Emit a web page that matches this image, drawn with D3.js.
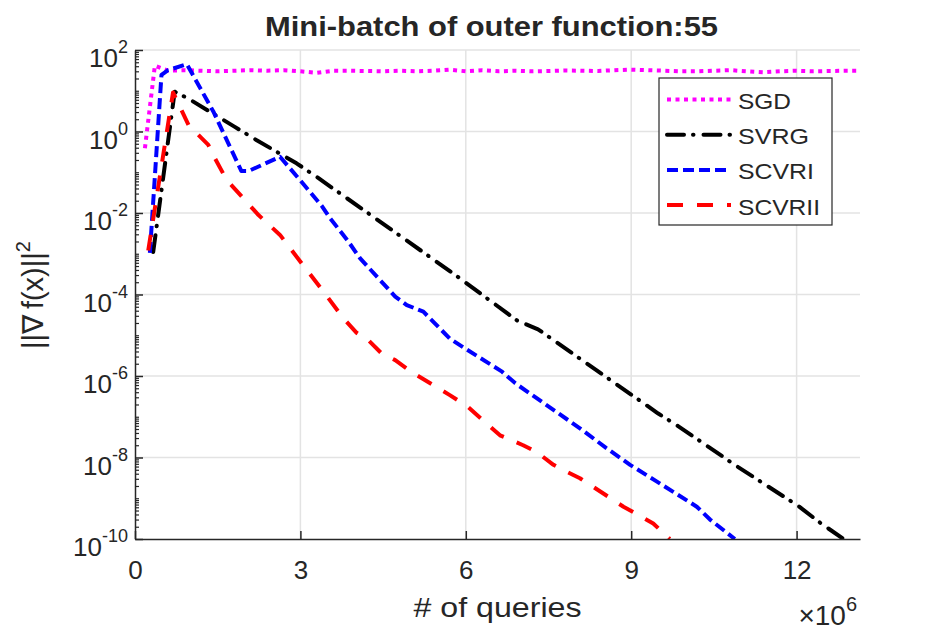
<!DOCTYPE html>
<html>
<head>
<meta charset="utf-8">
<script src="https://cdn.jsdelivr.net/npm/d3@7"></script>
<style>
  body { margin: 0; background: #fff; }
  text { font-family: "Liberation Sans", Arial, Helvetica, sans-serif; fill: #262626; }
</style>
</head>
<body>
<div id="vis-container"></div>
<script>
// data (x in units of 1e6 queries)
let sgdX = [0.18, 0.36, 0.6, 0.9, 1.2, 1.5, 1.8, 2.1, 2.4, 2.7, 3.0, 3.3, 3.6, 3.9, 4.2, 4.5, 4.8, 5.1, 5.4, 5.7, 6.0, 6.3, 6.6, 6.9, 7.2, 7.5, 7.8, 8.1, 8.4, 8.7, 9.0, 9.3, 9.6, 9.9, 10.2, 10.5, 10.8, 11.1, 11.4, 11.7, 12.0, 12.3, 12.6, 12.9, 13.15];
let sgdY = [0.39, 41, 31, 32, 31, 30, 31, 32, 31, 32, 30, 27.5, 31, 31, 30.5, 30, 31, 30, 31, 33, 30, 32, 30, 31, 30, 30.5, 31.5, 31, 30.5, 32, 33, 32, 31, 30, 30, 31, 32, 30, 28.5, 30, 31, 30, 30.5, 31, 31];

let svrgX = [0.33, 0.72, 0.96, 1.81, 2.2, 2.93, 3.3, 4.38, 5.85, 6.93, 7.31, 8.40, 9.49, 9.85, 10.94, 12.03, 12.41, 12.85];
let svrgY = [1.1e-3, 9.5, 6.5, 1.3, 0.62, 0.166, 0.076, 7.1e-3, 2.75e-4, 2.3e-5, 1.4e-5, 1.3e-6, 1.2e-7, 5.9e-8, 5.8e-9, 6.5e-10, 2.6e-10, 1.0e-10];

let scvr1X = [0.27, 0.48, 0.6, 0.9, 0.94, 1.42, 1.93, 2.06, 2.63, 2.99, 3.39, 3.54, 3.87, 4.08, 4.72, 4.93, 5.23, 5.71, 5.98, 6.65, 6.90, 8.07, 8.55, 8.98, 9.46, 10.19, 10.43, 10.88];
let scvr1Y = [1.05e-3, 24.5, 32, 43, 45, 3.1, 0.107, 0.107, 0.24, 0.065, 0.0148, 7.4e-3, 2.0e-3, 7.8e-4, 8.9e-5, 5.5e-5, 3.8e-5, 8.3e-6, 4.8e-6, 1.3e-6, 6.6e-7, 5.2e-8, 1.7e-8, 6.6e-9, 2.6e-9, 6.2e-10, 3.0e-10, 1.0e-10];

let scvr2X = [0.24, 0.69, 0.97, 1.33, 1.42, 1.63, 1.69, 2.24, 2.63, 3.05, 3.42, 3.78, 4.02, 4.23, 4.47, 4.72, 5.05, 5.71, 6.03, 6.62, 7.04, 7.28, 7.59, 7.77, 8.07, 8.86, 9.13, 9.40, 9.70];
let scvr2Y = [1.2e-3, 9.1, 1.45, 0.47, 0.26, 0.078, 0.059, 8.9e-3, 2.9e-3, 5.2e-4, 1.17e-4, 2.6e-5, 1.15e-5, 7.6e-6, 3.6e-6, 2.45e-6, 1.17e-6, 3.4e-7, 1.78e-7, 3.5e-8, 2.0e-8, 1.38e-8, 6.6e-9, 4.9e-9, 3.1e-9, 6.2e-10, 3.9e-10, 2.4e-10, 1.0e-10];

let names = ["SGD", "SVRG", "SCVRI", "SCVRII"];
let xTicks = [0, 3, 6, 9, 12];
let yExps = [2, 0, -2, -4, -6, -8, -10];

let w = 952;
let h = 634;
let mLeft = 135, mRight = 860, mTop = 50, mBottom = 539;

let svg = d3.select("#vis-container")
  .append("svg")
  .attr("width", w)
  .attr("height", h);

let x = d3.scaleLinear()
  .domain([0, 13.15])
  .range([mLeft, mRight]);

let y = d3.scaleLog()
  .domain([1e-10, 1e2])
  .range([mBottom, mTop]);

let axisCol = "#262626";

// grid
svg.append("g").selectAll("line")
  .data(xTicks.slice(1))
  .enter().append("line")
  .attr("x1", d => x(d)).attr("x2", d => x(d))
  .attr("y1", mTop).attr("y2", mBottom)
  .attr("stroke", "#e3e3e3").attr("stroke-width", 1.5);

svg.append("g").selectAll("line")
  .data(yExps.slice(0, -1))
  .enter().append("line")
  .attr("x1", mLeft).attr("x2", mRight)
  .attr("y1", d => y(Math.pow(10, d))).attr("y2", d => y(Math.pow(10, d)))
  .attr("stroke", "#e3e3e3").attr("stroke-width", 1.5);

// series
let series = [
  {xs: sgdX, ys: sgdY, color: "#ff00ff", dash: "4,4.5", cap: "butt", width: 4},
  {xs: svrgX, ys: svrgY, color: "#000000", dash: "17,9,0.5,10", cap: "round", width: 4},
  {xs: scvr1X, ys: scvr1Y, color: "#0000ff", dash: "11,5", cap: "butt", width: 4},
  {xs: scvr2X, ys: scvr2Y, color: "#ff0000", dash: "16,14", cap: "butt", width: 4}
];

svg.append("clipPath").attr("id", "clip")
  .append("rect")
  .attr("x", mLeft).attr("y", mTop - 4)
  .attr("width", mRight - mLeft).attr("height", mBottom - mTop + 4);

let line = d3.line()
  .x(d => x(d[0]))
  .y(d => y(d[1]));

svg.append("g").attr("clip-path", "url(#clip)")
  .selectAll("path")
  .data(series)
  .enter().append("path")
  .attr("d", s => line(s.xs.map((v, i) => [v, s.ys[i]])))
  .attr("fill", "none")
  .attr("stroke", s => s.color)
  .attr("stroke-width", s => s.width)
  .attr("stroke-dasharray", s => s.dash)
  .attr("stroke-linecap", s => s.cap)
  .attr("stroke-linejoin", "round");

// x axis
let xAxis = svg.append("g")
  .attr("transform", `translate(0,${mBottom})`)
  .call(d3.axisBottom(x).tickValues(xTicks).tickSize(-8).tickSizeOuter(0).tickPadding(22).tickFormat(d3.format("d")));
xAxis.select(".domain").attr("stroke", axisCol).attr("stroke-width", 1.5);
xAxis.selectAll(".tick line").attr("stroke", axisCol).attr("stroke-width", 1.5);
xAxis.selectAll(".tick text")
  .attr("font-size", 26)
  .attr("fill", axisCol);

// y axis minor ticks
let minor = [];
for (let e = -10; e < 2; e++) {
  for (let k = 2; k <= 9; k++) minor.push(k * Math.pow(10, e));
}
for (let e = -9; e < 2; e += 2) minor.push(Math.pow(10, e));

let yMinor = svg.append("g")
  .attr("transform", `translate(${mLeft},0)`)
  .call(d3.axisLeft(y).tickValues(minor).tickSize(-4).tickSizeOuter(0).tickFormat(""));
yMinor.select(".domain").remove();
yMinor.selectAll(".tick line").attr("stroke", axisCol).attr("stroke-width", 1.2);

let yAxis = svg.append("g")
  .attr("transform", `translate(${mLeft},0)`)
  .call(d3.axisLeft(y).tickValues(yExps.map(e => Math.pow(10, e))).tickSize(-8).tickSizeOuter(0).tickFormat(""));
yAxis.select(".domain").attr("stroke", axisCol).attr("stroke-width", 1.5);
yAxis.selectAll(".tick line").attr("stroke", axisCol).attr("stroke-width", 1.5);

// y tick labels as 10^n
let yLab = svg.append("g").selectAll("text")
  .data(yExps)
  .enter().append("text")
  .attr("x", mLeft - 7)
  .attr("y", d => y(Math.pow(10, d)) + 17)
  .attr("text-anchor", "end")
  .attr("font-size", 26);
yLab.append("tspan").text("10");
yLab.append("tspan").attr("dy", -14).attr("font-size", 18).text(d => d);

// x multiplier
let mult = svg.append("text")
  .attr("x", mRight - 3).attr("y", 625)
  .attr("text-anchor", "end")
  .attr("font-size", 28);
mult.append("tspan").text("\u00d710");
mult.append("tspan").attr("dy", -14).attr("font-size", 20).text("6");

// axis labels and title
svg.append("text")
  .attr("x", (mLeft + mRight) / 2).attr("y", 617)
  .attr("text-anchor", "middle")
  .attr("font-size", 28)
  .attr("textLength", 168)
  .attr("lengthAdjust", "spacingAndGlyphs")
  .text("# of queries");

let yl = svg.append("text")
  .attr("transform", `translate(43,295) rotate(-90)`)
  .attr("text-anchor", "middle")
  .attr("font-size", 29);
yl.append("tspan").text("||\u2207\u2009f(x)||");
yl.append("tspan").attr("dy", -13).attr("font-size", 20).text("2");

svg.append("text")
  .attr("x", 491.5).attr("y", 36)
  .attr("text-anchor", "middle")
  .attr("font-size", 28)
  .attr("font-weight", "bold")
  .attr("fill", "#000")
  .attr("textLength", 453)
  .attr("lengthAdjust", "spacingAndGlyphs")
  .text("Mini-batch of outer function:55");

// legend
let legW = [53, 71, 76, 82];
let lg = svg.append("g");
lg.append("rect")
  .attr("x", 659).attr("y", 78)
  .attr("width", 173).attr("height", 147)
  .attr("fill", "#fff")
  .attr("stroke", axisCol).attr("stroke-width", 1.2);

let rows = lg.selectAll("g.row")
  .data(series)
  .enter().append("g")
  .attr("class", "row")
  .attr("transform", (d, i) => `translate(0,${99.5 + i * 35.2})`);
rows.append("line")
  .attr("x1", 667).attr("x2", 731)
  .attr("y1", 0).attr("y2", 0)
  .attr("stroke", d => d.color)
  .attr("stroke-width", d => d.width)
  .attr("stroke-dasharray", d => d.dash)
  .attr("stroke-linecap", d => d.cap);
rows.append("text")
  .attr("x", 738).attr("y", 9.5)
  .attr("font-size", 22)
  .attr("fill", "#000")
  .attr("textLength", (d, i) => legW[i])
  .attr("lengthAdjust", "spacingAndGlyphs")
  .text((d, i) => names[i]);
</script>
</body>
</html>
